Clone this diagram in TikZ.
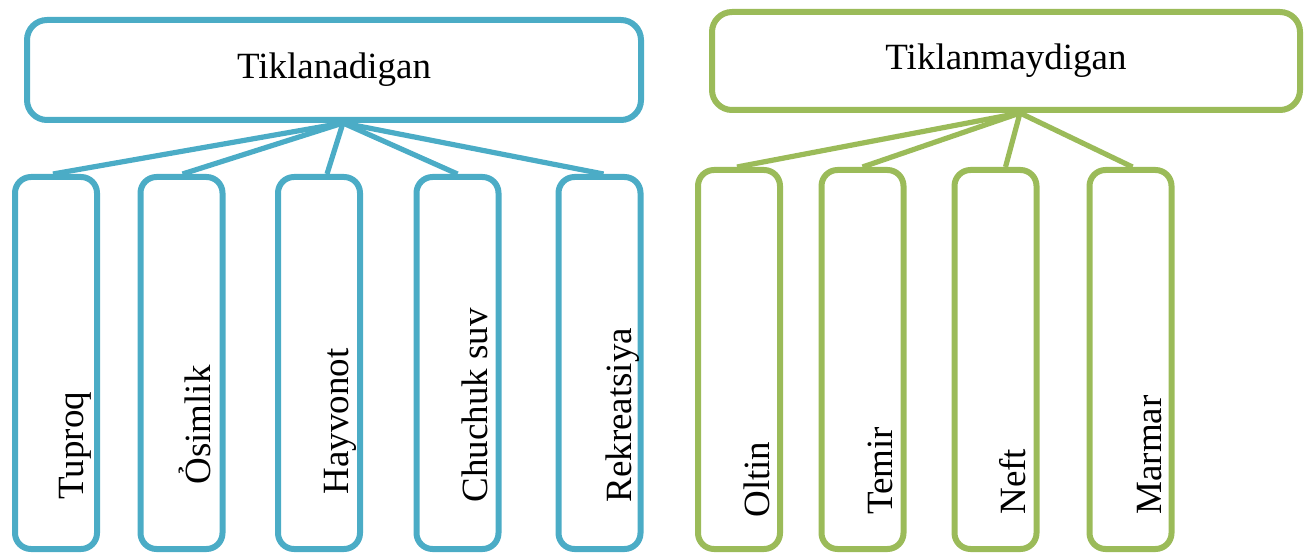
\documentclass[tikz,border=0pt]{standalone}
\usepackage{fontspec}
\setmainfont{Liberation Serif}
\usepackage{tikz}
\usetikzlibrary{calc}
\definecolor{blu}{HTML}{4BACC6}
\definecolor{grn}{HTML}{9BBB59}

\begin{document}
\begin{tikzpicture}[x=0.5pt,y=0.5pt,
  headbox/.style={draw=#1,line width=3pt,rounded corners=10pt,font=\fontsize{18.5}{22}\selectfont},
  leafbox/.style={draw=#1,line width=3pt,rounded corners=8pt,minimum width=41pt},
  leaftext/.style={rotate=90,anchor=base west,inner sep=0pt,font=\fontsize{18.5}{22}\selectfont},
  branch/.style={draw=#1,line width=2.6pt}]
\useasboundingbox (0,0) rectangle (1305,552);
% the two groups
\node[headbox=blu,minimum width=307pt,minimum height=50pt] (tik) at (334,482) {Tiklanadigan};
\node[headbox=grn,minimum width=294pt,minimum height=49pt] (tikm) at (1006,491) {Tiklanmaydigan};
% renewable
\node[leafbox=blu,minimum height=186pt] (tuproq) at (56,189) {};
\node[leafbox=blu,minimum height=186pt] (osimlik) at (181.5,189) {};
\node[leafbox=blu,minimum height=186pt] (hayvonot) at (319,189) {};
\node[leafbox=blu,minimum height=186pt] (chuchuk) at (457.5,189) {};
\node[leafbox=blu,minimum height=186pt] (rekreat) at (599.5,189) {};
% non-renewable
\node[leafbox=grn,minimum height=189.5pt] (oltin) at (739,192.5) {};
\node[leafbox=grn,minimum height=189.5pt] (temir) at (862.5,192.5) {};
\node[leafbox=grn,minimum height=189.5pt] (neft) at (995.5,192.5) {};
\node[leafbox=grn,minimum height=189.5pt] (marmar) at (1130.5,192.5) {};
% labels
\node[leaftext] (tuproqt) at ($(tuproq.south east)+(-17,52)$) {Tuproq};
\node[leaftext] (osimlikt) at ($(osimlik.south east)+(-15,67)$) {Ỏsimlik};
\node[leaftext] (hayvonott) at ($(hayvonot.south east)+(-15,57)$) {Hayvonot};
\node[leaftext] (chuchukt) at ($(chuchuk.south east)+(-14,49)$) {Chuchuk suv};
\node[leaftext] (rekreatt) at ($(rekreat.south east)+(-12,49)$) {Rekreatsiya};
\node[leaftext] (oltint) at ($(oltin.south east)+(-14,34)$) {Oltin};
\node[leaftext] (temirt) at ($(temir.south east)+(-14,37)$) {Temir};
\node[leaftext] (neftt) at ($(neft.south east)+(-14,37)$) {Neft};
\node[leaftext] (marmart) at ($(marmar.south east)+(-13,37)$) {Marmar};
% connectors
\coordinate (bhub) at ($(tik.south)+(9,0)$);
\coordinate (ghub) at ($(tikm.south)+(14,0)$);
\foreach \n/\d in {tuproq/-3,osimlik/1,hayvonot/8,chuchuk/0,rekreat/4}
  \draw[branch=blu] (bhub) -- ($(\n.north)+(\d,0)$);
\foreach \n/\d in {oltin/-2,temir/0,neft/10,marmar/2}
  \draw[branch=grn] (ghub) -- ($(\n.north)+(\d,0)$);
\end{tikzpicture}
\end{document}
